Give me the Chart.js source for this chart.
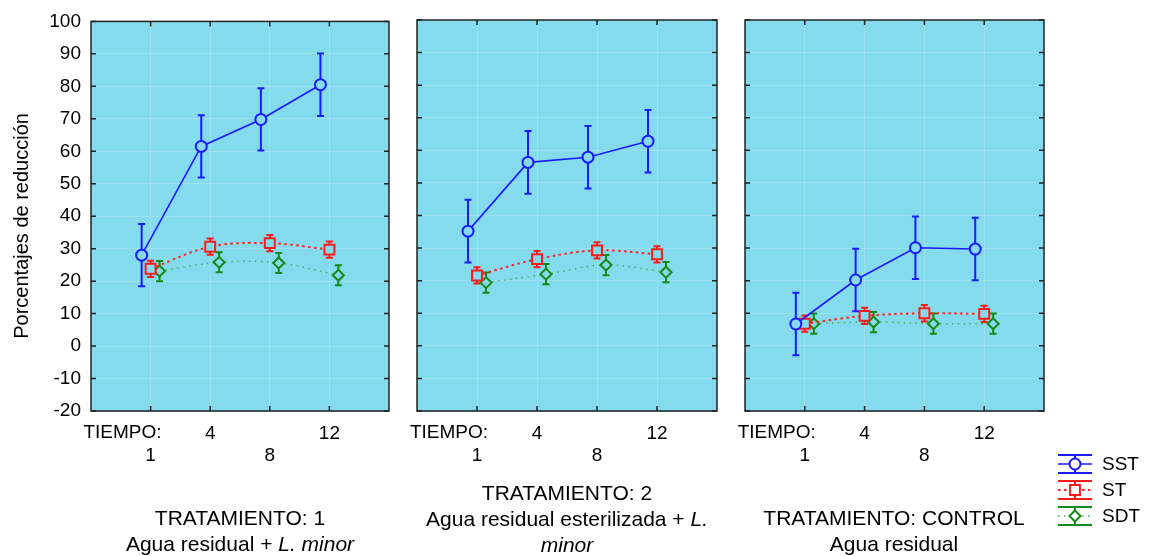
<!DOCTYPE html>
<html>
<head>
<meta charset="utf-8">
<script src="https://cdn.jsdelivr.net/npm/chart.js"></script>
<style>
  body { margin: 0; background: #fff; width: 1157px; height: 556px; position: relative; overflow: hidden; font-family: Arial, "Liberation Sans", sans-serif; }
  canvas { position: absolute; left: 0; top: 0; }
  .cap { position: absolute; width: 340px; text-align: center; font-size: 21px; line-height: 26px; color: #000; }
</style>
</head>
<body>
<canvas id="p1" width="1157" height="556"></canvas>
<canvas id="p2" width="1157" height="556"></canvas>
<canvas id="p3" width="1157" height="556"></canvas>
<div class="cap" style="left:70px;top:505px">TRATAMIENTO: 1<br>Agua residual + <i>L. minor</i></div>
<div class="cap" style="left:397px;top:480px">TRATAMIENTO: 2<br>Agua residual esterilizada + <i>L.</i><br><i>minor</i></div>
<div class="cap" style="left:724px;top:505px">TRATAMIENTO: CONTROL<br>Agua residual</div>
<script>
// tiempos (categorias del eje x)
const tiempos = ['1', '4', '8', '12'];
const seriesNames = ['SST', 'ST', 'SDT'];
const yTicks = [-20, -10, 0, 10, 20, 30, 40, 50, 60, 70, 80, 90, 100];
const yTitle = 'Porcentajes de reducción';

// Tratamiento 1
const t1SST = [28.0, 61.5, 69.8, 80.5];
const t1ST = [23.8, 30.6, 31.7, 29.7];
const t1SDT = [23.1, 25.8, 25.6, 21.8];
// Tratamiento 2
const t2SST = [35.2, 56.3, 57.9, 62.8];
const t2ST = [21.6, 26.6, 29.3, 28.1];
const t2SDT = [19.4, 22.0, 24.8, 22.6];
// Control
const t3SST = [6.7, 20.2, 30.1, 29.7];
const t3ST = [6.8, 9.2, 10.0, 9.8];
const t3SDT = [6.8, 7.3, 6.8, 6.8];

// error (+/-)
const errSST = [9.6, 9.6, 9.6, 9.6];
const errST = [2.5, 2.5, 2.5, 2.5];
const errSDT = [3.1, 3.1, 3.1, 3.1];

const FONT = 'Arial, "Liberation Sans", sans-serif';
const BG = '#84dbee';
const GRID = '#9ae2f2';

const styles = {
  SST: { color: '#1a1aff', line: '#1a1aff', point: 'circle', radius: 5.5, dash: [], width: 1.6, tension: 0, shift: -0.15 },
  ST: { color: '#ff1a1a', line: '#ff2020', point: 'rect', radius: 7, dash: [2.5, 3.5], width: 2, tension: 0.35, shift: 0 },
  SDT: { color: '#168a16', line: '#4aa860', point: 'rectRot', radius: 5.5, dash: [1.5, 4.5], width: 1.4, tension: 0.35, shift: 0.15 },
};
const errs = [errSST, errST, errSDT];

const panelPlugin = {
  id: 'panel',
  beforeDraw(chart) {
    const { ctx, chartArea: a } = chart;
    ctx.save();
    ctx.fillStyle = BG;
    ctx.fillRect(a.left, a.top, a.width, a.height);
    ctx.restore();
  },
  beforeDatasetsDraw(chart) {
    // error bars
    const { ctx, scales: { x, y } } = chart;
    ctx.save();
    ctx.lineWidth = 2;
    chart.data.datasets.forEach(ds => {
      ctx.strokeStyle = styles[ds.label].color;
      ctx.beginPath();
      ds.data.forEach(p => {
        const px = x.getPixelForValue(p.x);
        const top = y.getPixelForValue(p.y + p.err);
        const bot = y.getPixelForValue(p.y - p.err);
        ctx.moveTo(px, top); ctx.lineTo(px, bot);
        ctx.moveTo(px - 3.5, top); ctx.lineTo(px + 3.5, top);
        ctx.moveTo(px - 3.5, bot); ctx.lineTo(px + 3.5, bot);
      });
      ctx.stroke();
    });
    ctx.restore();
  },
  afterDraw(chart) {
    const { ctx, chartArea: a, scales: { x, y } } = chart;
    ctx.save();
    ctx.strokeStyle = '#222';
    ctx.lineWidth = 1.5;
    ctx.strokeRect(a.left, a.top, a.width, a.height);
    ctx.beginPath();
    y.ticks.forEach(t => {
      const py = y.getPixelForValue(t.value);
      ctx.moveTo(a.left, py); ctx.lineTo(a.left + 5, py);
      ctx.moveTo(a.right, py); ctx.lineTo(a.right - 5, py);
    });
    x.ticks.forEach(t => {
      const px = x.getPixelForValue(t.value);
      ctx.moveTo(px, a.top); ctx.lineTo(px, a.top + 5);
      ctx.moveTo(px, a.bottom); ctx.lineTo(px, a.bottom - 5);
    });
    ctx.stroke();
    ctx.fillStyle = '#000';
    ctx.font = '19px ' + FONT;
    ctx.textAlign = 'right';
    ctx.textBaseline = 'middle';
    ctx.fillText('TIEMPO:', x.getPixelForValue(1) + 11, a.bottom + 22);
    // y title, only on first panel (sits a bit below the axis middle)
    if (y.options.ticks.display) {
      ctx.translate(22, y.getPixelForValue(37));
      ctx.rotate(-Math.PI / 2);
      ctx.textAlign = 'center';
      ctx.font = '20px ' + FONT;
      ctx.fillText(yTitle, 0, 0);
    }
    ctx.restore();
  }
};

const legendPlugin = {
  id: 'sideLegend',
  afterDraw(chart) {
    const ctx = chart.ctx;
    const x0 = 1058, x1 = 1092, xc = 1075;
    ctx.save();
    chart.data.datasets.forEach((ds, i) => {
      const st = styles[ds.label];
      const yc = 464 + i * 26;
      ctx.strokeStyle = st.color;
      ctx.lineWidth = 2;
      ctx.setLineDash([]);
      ctx.beginPath();
      ctx.moveTo(x0, yc - 9); ctx.lineTo(x1, yc - 9);
      ctx.moveTo(x0, yc + 9); ctx.lineTo(x1, yc + 9);
      ctx.moveTo(xc, yc - 9); ctx.lineTo(xc, yc + 9);
      ctx.stroke();
      ctx.strokeStyle = st.line;
      ctx.lineWidth = st.width;
      ctx.setLineDash(st.dash);
      ctx.beginPath();
      ctx.moveTo(x0, yc); ctx.lineTo(x1, yc);
      ctx.stroke();
      ctx.setLineDash([]);
      ctx.fillStyle = '#fff';
      ctx.strokeStyle = st.color;
      ctx.lineWidth = 2;
      Chart.helpers.drawPoint(ctx, { pointStyle: st.point, radius: st.radius, borderWidth: 2 }, xc, yc);
      ctx.fillStyle = '#000';
      ctx.font = '19px ' + FONT;
      ctx.textAlign = 'left';
      ctx.textBaseline = 'middle';
      ctx.fillText(ds.label, 1102, yc + 1);
    });
    ctx.restore();
  }
};

function makePanel(id, vals, left, right, showY, extra) {
  const datasets = seriesNames.map((name, s) => {
    const st = styles[name];
    return {
      label: name,
      data: vals[s].map((v, i) => ({ x: i + 1 + st.shift, y: v, err: errs[s][i] })),
      borderColor: st.line,
      borderWidth: st.width,
      borderDash: st.dash,
      tension: st.tension,
      pointStyle: st.point,
      pointRadius: st.radius,
      pointBorderColor: st.color,
      pointBackgroundColor: BG,
      pointBorderWidth: 2,
      fill: false,
    };
  });
  return new Chart(document.getElementById(id), {
    type: 'line',
    data: { datasets },
    options: {
      responsive: false,
      animation: false,
      events: [],
      layout: { padding: { left: left, right: 1157 - right, top: 20, bottom: 0 } },
      plugins: { legend: { display: false }, tooltip: { enabled: false } },
      scales: {
        x: {
          type: 'linear', min: 0, max: 5,
          afterBuildTicks: s => { s.ticks = tiempos.map((t, i) => ({ value: i + 1 })); },
          afterFit: s => { s.height = 145; },
          grid: { color: GRID, drawTicks: false },
          border: { display: false },
          ticks: {
            autoSkip: false, maxRotation: 0, padding: 12, color: '#000',
            font: { family: FONT, size: 19, lineHeight: 22 / 19 },
            callback: (v, i) => i % 2 ? [tiempos[i], ''] : ['', tiempos[i]]
          }
        },
        y: {
          min: yTicks[0], max: yTicks[yTicks.length - 1],
          afterBuildTicks: s => { s.ticks = yTicks.map(v => ({ value: v })); },
          afterFit: s => { s.width = showY ? 91 : 0; },
          grid: { color: GRID, drawTicks: false },
          border: { display: false },
          ticks: { display: showY, padding: 10, color: '#000', font: { family: FONT, size: 19 } }
        }
      }
    },
    plugins: [panelPlugin].concat(extra || [])
  });
}

makePanel('p1', [t1SST, t1ST, t1SDT], 0, 389, true);
makePanel('p2', [t2SST, t2ST, t2SDT], 417, 717, false);
makePanel('p3', [t3SST, t3ST, t3SDT], 745, 1044, false, [legendPlugin]);
</script>
</body>
</html>
